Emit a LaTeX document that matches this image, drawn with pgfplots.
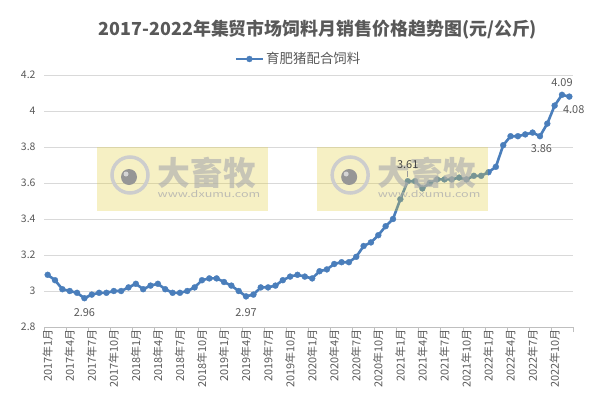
\documentclass[border=0pt]{standalone}
\usepackage{pgfplots}
\pgfplotsset{compat=1.18}
\usepackage{fontspec}
\setmainfont{Noto Sans CJK SC}
\definecolor{lineblue}{RGB}{74,126,187}
\definecolor{txtgray}{RGB}{89,89,89}
\definecolor{gridgray}{RGB}{217,217,217}
\definecolor{axgray}{RGB}{191,191,191}
\definecolor{wmyellow}{RGB}{225,205,60}
\definecolor{wmtext}{RGB}{175,175,175}
\definecolor{wmring}{RGB}{205,205,205}
\definecolor{wmdot}{RGB}{150,150,150}

% 育肥猪配合饲料 monthly price, 2017-01 .. 2022-12 (idx 0..71)
\pgfplotstableread{
idx price
0 3.09
1 3.06
2 3.01
3 3.00
4 2.99
5 2.96
6 2.98
7 2.99
8 2.99
9 3.00
10 3.00
11 3.02
12 3.04
13 3.01
14 3.03
15 3.04
16 3.01
17 2.99
18 2.99
19 3.00
20 3.02
21 3.06
22 3.07
23 3.07
24 3.05
25 3.03
26 3.00
27 2.97
28 2.98
29 3.02
30 3.02
31 3.03
32 3.06
33 3.08
34 3.09
35 3.08
36 3.07
37 3.11
38 3.12
39 3.15
40 3.16
41 3.16
42 3.19
43 3.25
44 3.27
45 3.31
46 3.36
47 3.40
48 3.51
49 3.61
50 3.61
51 3.57
52 3.60
53 3.62
54 3.62
55 3.62
56 3.63
57 3.62
58 3.64
59 3.64
60 3.66
61 3.69
62 3.81
63 3.86
64 3.86
65 3.87
66 3.88
67 3.86
68 3.93
69 4.03
70 4.09
71 4.08
}\pricetable

\newcommand{\watermark}[1]{%
  \begin{scope}[xshift=#1]
    \fill[wmyellow, opacity=0.3] (97,193) rectangle (268,257);
    \draw[wmring, line width=3.5bp] (130,229) circle (18bp);
    \fill[wmdot] (129,227) circle (8bp);
    \fill[white!60!wmdot] (126,230) circle (2.5bp);
    \node[text=wmtext, text opacity=0.65, font=\bfseries\fontsize{33}{33}\selectfont, inner sep=0] at (207,231) {大畜牧};
    \node[text=wmtext, text opacity=0.8, font=\fontsize{9}{9}\selectfont, inner sep=0, xscale=1.4] at (209,210) {www.dxumu.com};
  \end{scope}}

\begin{document}
\begin{tikzpicture}[x=1bp,y=1bp]
\useasboundingbox (0,0) rectangle (602,404);
\begin{axis}[
  at={(44bp,77bp)}, anchor=south west,
  scale only axis, width=529bp, height=252bp,
  xmin=-0.5, xmax=71.5, ymin=2.8, ymax=4.2,
  ytick={2.8,3,3.2,3.4,3.6,3.8,4,4.2},
  xtick={0,3,...,69},
  xticklabels={2017年1月,2017年4月,2017年7月,2017年10月,
               2018年1月,2018年4月,2018年7月,2018年10月,
               2019年1月,2019年4月,2019年7月,2019年10月,
               2020年1月,2020年4月,2020年7月,2020年10月,
               2021年1月,2021年4月,2021年7月,2021年10月,
               2022年1月,2022年4月,2022年7月,2022年10月},
  minor xtick={-0.5,2.5,...,71.5},
  major tick length=0pt, minor tick length=5bp,
  tick align=outside,
  minor x tick style={axgray, line width=0.6bp},
  axis x line*=bottom, axis y line*=left,
  x axis line style={axgray, line width=0.6bp, -},
  y axis line style={draw=none},
  ymajorgrids, major grid style={gridgray, line width=0.6bp},
  xticklabel style={rotate=90, anchor=east, text=txtgray,
    font=\fontsize{11}{12}\selectfont, inner sep=2bp},
  yticklabel style={text=txtgray, font=\fontsize{10.5}{11}\selectfont, xshift=-5bp},
  /pgf/number format/assume math mode=true,
  legend style={at={(0.5,1)}, anchor=center, yshift=16bp, xshift=-10bp,
    draw=none, fill=none, text=txtgray, font=\fontsize{13.5}{15}\selectfont,
    inner sep=0pt},
  legend image code/.code={\draw[mark repeat=2,mark phase=2,#1]
    plot coordinates {(0bp,0bp) (13.5bp,0bp) (27bp,0bp)};},
  clip=false,
]
\addplot[lineblue, line width=2.6bp, mark=*, mark size=3bp,
  mark options={fill=lineblue, draw=lineblue, line width=0.3bp}]
  table[x=idx, y=price] {\pricetable};
\addlegendentry{育肥猪配合饲料}
\begin{scope}[every node/.style={text=txtgray, font=\fontsize{11}{12}\selectfont}]
  \node at (axis cs:5,2.88) {2.96};
  \node at (axis cs:27,2.88) {2.97};
  \node at (axis cs:67.2,3.79) {3.86};
  \node at (axis cs:70,4.16) {4.09};
  \node at (axis cs:71.6,4.01) {4.08};
\end{scope}
\coordinate (lab361) at (axis cs:49,3.70);
\coordinate (pt361) at (axis cs:49,3.61);
\end{axis}
\watermark{0}
\watermark{221}
% label drawn above the watermark so that it stays readable
\draw[txtgray!60, line width=0.5bp] ([yshift=-6bp]lab361) -- ([yshift=4bp]pt361);
\node[text=txtgray!80!black, font=\fontsize{11}{12}\selectfont, fill=none] at (lab361) {3.61};
\node[text=txtgray, font=\bfseries\fontsize{18}{21}\selectfont] at (318,374)
  {2017-2022年集贸市场饲料月销售价格趋势图(元/公斤)};
\end{tikzpicture}
\end{document}
